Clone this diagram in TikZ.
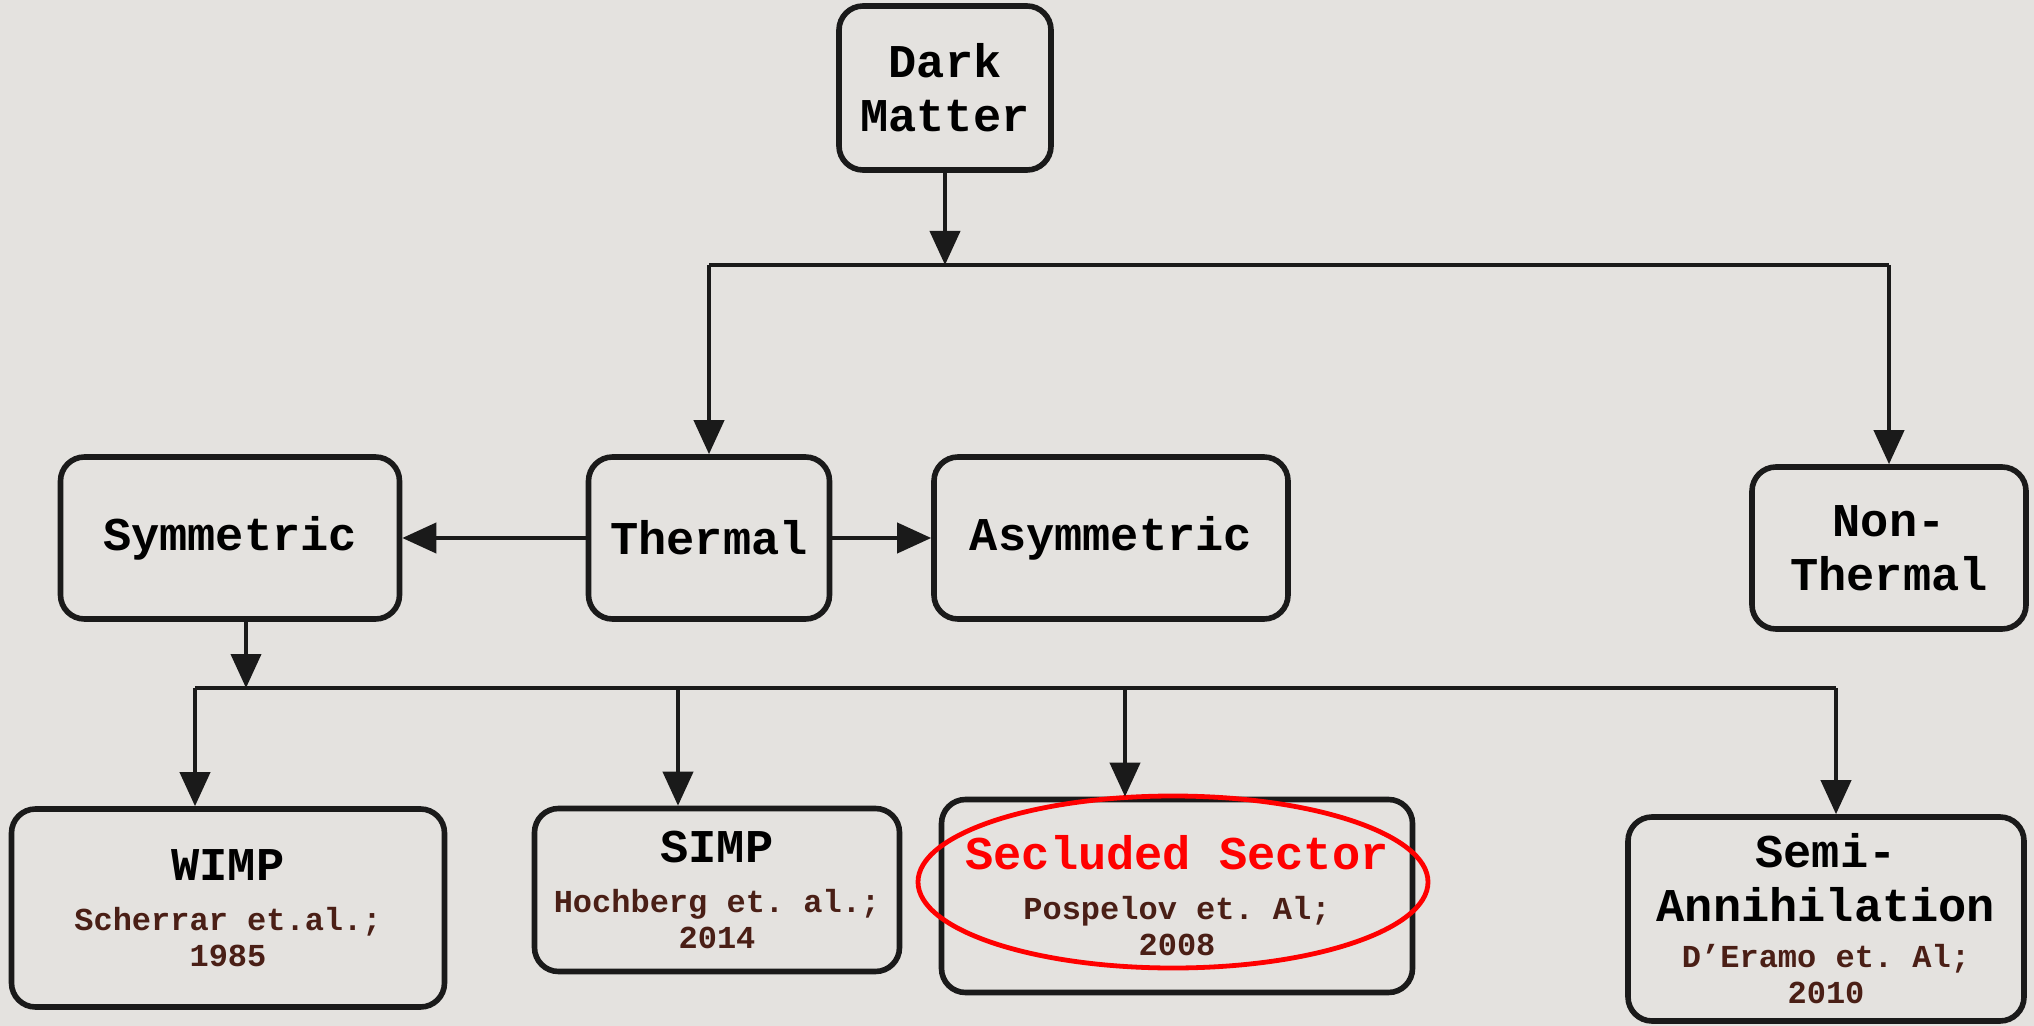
\documentclass[tikz,border=0pt]{standalone}
\usepackage{fontspec}
\setmonofont{Liberation Mono}
\usetikzlibrary{arrows.meta}
\definecolor{paper}{HTML}{E4E2DF}
\definecolor{ink}{HTML}{1A1A1A}
\definecolor{cite}{HTML}{4A1F16}
\newcommand{\refline}[1]{{\fontsize{16}{18}\selectfont\color{cite}#1}}

\begin{document}
\begin{tikzpicture}[x=0.5pt,y=-0.5pt,
    blk/.style n args={2}{draw=ink,line width=2.8pt,rounded corners=12pt,
      minimum width=#1pt,minimum height=#2pt,inner sep=0pt,align=center,
      font=\ttfamily\bfseries\fontsize{23.5}{27}\selectfont},
    arr/.style={ink,line width=2pt,-{Triangle[length=17pt,width=15pt]}},
    bar/.style={ink,line width=2pt}]
    \fill[paper] (0,0) rectangle (2034,1026);
    \useasboundingbox (0,0) rectangle (2034,1026);
    % top levels
    \node[blk={106}{82}] (dm) at (945,88) {Dark\\Matter};
    \node[blk={169.5}{81}] (sym) at (230,538) {Symmetric};
    \node[blk={120.5}{81}] (thermal) at (709,538) {Thermal};
    \node[blk={177}{81}] (asym) at (1111,538) {Asymmetric};
    \node[blk={137}{81}] (nonthermal) at (1889,548) {Non-\\Thermal};
    % candidates
    \node[blk={216.5}{99}] (wimp) at (228,908)
       {WIMP\\[-2pt]\refline{Scherrar et.al.;}\\[-9pt]\refline{1985}};
    \node[blk={182.5}{81.5}] (simp) at (717,890)
       {SIMP\\[-2pt]\refline{Hochberg et. al.;}\\[-9pt]\refline{2014}};
    \node[blk={235.5}{96.5}] (secl) at (1177,896)
       {{\color{red}Secluded Sector}\\[-2pt]\refline{Pospelov et. Al;}\\[-9pt]\refline{2008}};
    \node[blk={198}{102}] (semi) at (1826,919)
       {Semi-\\Annihilation\\[-4pt]\refline{D’Eramo et. Al;}\\[-9pt]\refline{2010}};
    \draw[red,line width=2.4pt] (1173,882) ellipse [x radius=127.5pt, y radius=43pt];
    % connectors
    \coordinate (j1) at (943,265);
    \coordinate (j2) at (246,688);
    \coordinate (w1) at (195,688);
    \coordinate (w2) at (678,688);
    \coordinate (w3) at (1125,688);
    \coordinate (w4) at (1836,688);
    \draw[arr] (dm.south) -- (dm.south |- j1);
    \draw[bar] (thermal.north |- j1) -- (nonthermal.north |- j1);
    \draw[arr] (thermal.north |- j1) -- (thermal.north);
    \draw[arr] (nonthermal.north |- j1) -- (nonthermal.north);
    \draw[arr] (thermal) -- (sym);
    \draw[arr] (thermal) -- (asym);
    \draw[arr] (sym.south -| j2) -- (j2);
    \draw[bar] (w1) -- (w4);
    \foreach \c/\n in {w1/wimp,w2/simp,w3/secl,w4/semi}
       \draw[arr] (\c) -- (\c |- \n.north);
\end{tikzpicture}
\end{document}
